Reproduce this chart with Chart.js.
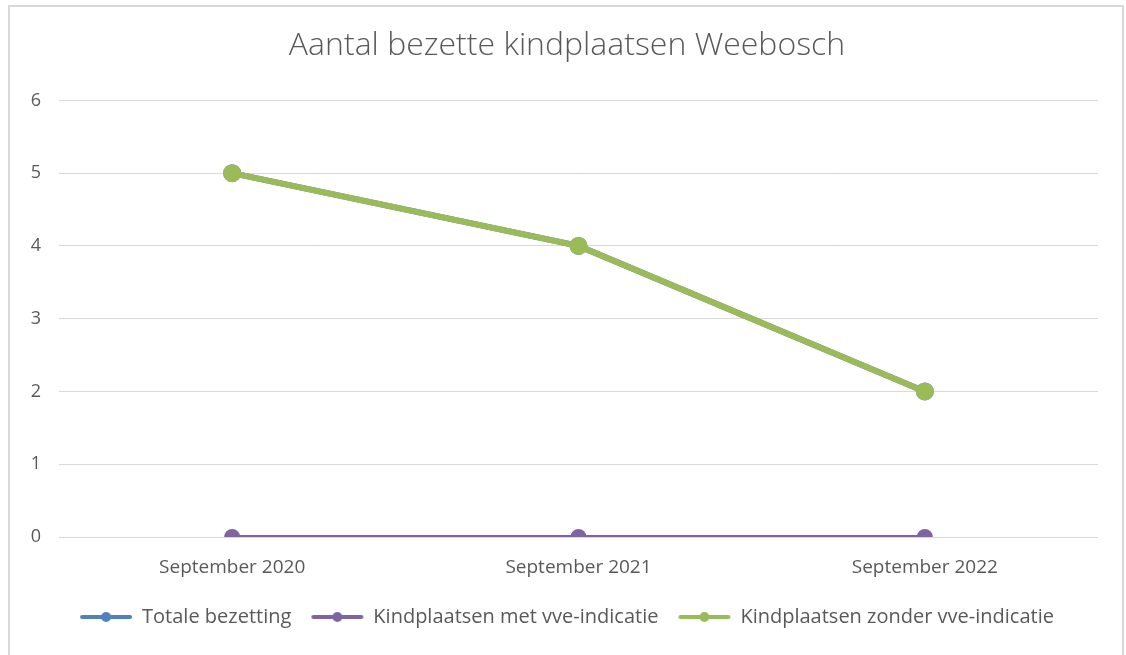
<!DOCTYPE html>
<html>
<head>
<meta charset="utf-8">
<script src="https://cdn.jsdelivr.net/npm/chart.js@4.4.0/dist/chart.umd.min.js"></script>
<style>
  html, body { margin: 0; padding: 0; background: #fff; overflow: hidden; width: 1126px; height: 655px; }
  #frame { position: absolute; left: 8px; top: 5px; width: 1116px; height: 660px; border: 2px solid #d9d9d9; box-sizing: border-box; }
  #wrap { position: absolute; left: 0; top: 0; width: 1134px; height: 655px; }
</style>
</head>
<body>
<div id="frame"></div>
<div id="wrap"><canvas id="chart"></canvas></div>
<script>
// Weebosch occupied places
const labels = ["September 2020", "September 2021", "September 2022"];
const totaal = [5, 4, 2];
const metVve = [0, 0, 0];
const zonderVve = [5, 4, 2];
const yTicks = [0, 1, 2, 3, 4, 5, 6];

const colors = ["#4f81bd", "#8064a2", "#9bbb59"];

// little line+dot swatch for the legend
function swatch(color) {
  const c = document.createElement("canvas");
  c.width = 54;
  c.height = 14;
  const g = c.getContext("2d");
  g.strokeStyle = color;
  g.lineWidth = 4;
  g.lineCap = "round";
  g.beginPath();
  g.moveTo(3, 7);
  g.lineTo(51, 7);
  g.stroke();
  g.fillStyle = color;
  g.beginPath();
  g.arc(27, 7, 5, 0, Math.PI * 2);
  g.fill();
  return c;
}
const swatches = colors.map(swatch);

const ctx = document.getElementById("chart").getContext("2d");
new Chart(ctx, {
  type: "line",
  data: {
    labels: labels,
    datasets: [
      { label: "Totale bezetting", data: totaal, borderColor: colors[0], backgroundColor: colors[0], borderWidth: 6, order: 3 },
      { label: "Kindplaatsen met vve-indicatie", data: metVve, borderColor: colors[1], backgroundColor: colors[1], borderWidth: 4, order: 2 },
      { label: "Kindplaatsen zonder vve-indicatie", data: zonderVve, borderColor: colors[2], backgroundColor: colors[2], borderWidth: 6, order: 1 },
    ],
  },
  options: {
    responsive: true,
    maintainAspectRatio: false,
    animation: false,
    layout: { padding: { left: 0, right: 0, top: 0, bottom: 18 } },
    elements: {
      line: { tension: 0, borderCapStyle: "round" },
      point: { radius: 6, borderWidth: 0, hoverRadius: 7 },
    },
    scales: {
      y: {
        min: 0,
        max: 6,
        afterBuildTicks: (axis) => { axis.ticks = yTicks.map((v) => ({ value: v })); },
        afterFit: (axis) => { axis.width = 59; },
        border: { display: false },
        grid: { color: "#d9d9d9", lineWidth: 1, drawTicks: false },
        ticks: { color: "#595959", padding: 18, font: { family: "Open Sans", size: 18 } },
      },
      // empty right axis, only to keep the plot symmetric under the title
      yRight: {
        position: "right",
        min: 0,
        max: 6,
        afterFit: (axis) => { axis.width = 36; },
        border: { display: false },
        grid: { display: false, drawTicks: false },
        ticks: { display: false },
      },
      x: {
        offset: true,
        afterFit: (axis) => { axis.height = 50; },
        border: { display: false },
        grid: { display: false, drawTicks: false },
        ticks: { color: "#595959", padding: 19, font: { family: "Open Sans", size: 19 } },
      },
    },
    plugins: {
      title: {
        display: true,
        text: "Aantal bezette kindplaatsen Weebosch",
        color: "#595959",
        font: { family: "Open Sans", size: 32, weight: "300" },
        padding: { top: 27, bottom: 35 },
      },
      legend: {
        display: true,
        position: "bottom",
        labels: {
          color: "#595959",
          font: { family: "Open Sans", size: 20 },
          usePointStyle: true,
          pointStyleWidth: 52,
          boxHeight: 14,
          padding: 20,
          sort: (a, b) => a.datasetIndex - b.datasetIndex,
          generateLabels: (chart) => {
            const items = Chart.defaults.plugins.legend.labels.generateLabels(chart);
            items.forEach((it) => { it.pointStyle = swatches[it.datasetIndex]; });
            return items;
          },
        },
      },
      tooltip: { enabled: true },
    },
  },
});
</script>
</body>
</html>
